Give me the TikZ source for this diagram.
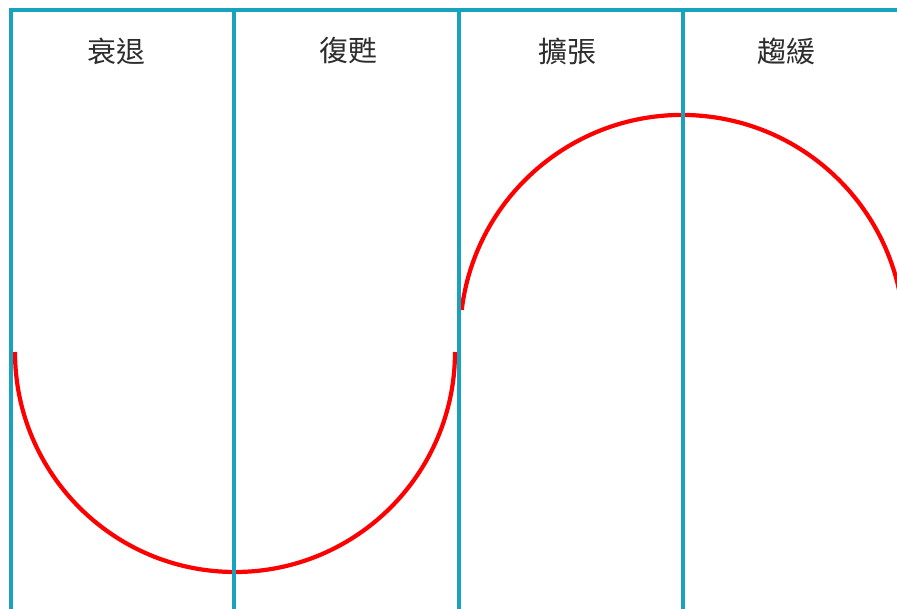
\documentclass[tikz,border=0pt]{standalone}
\usepackage{fontspec}
\newfontfamily\cjk{Noto Sans CJK TC}
\usepackage{tikz}
\definecolor{cyclecyan}{RGB}{23,163,190}
\definecolor{labelgray}{RGB}{45,45,45}
\tikzset{phase/.style = {font = \cjk\fontsize{29}{34}\selectfont, text = labelgray, inner sep = 0}}
\tikzset{divider/.style = {cyclecyan, line width = 3.2pt}}
\tikzset{wave/.style = {red, line width = 4.2pt}}

\begin{document}
\begin{tikzpicture}[x = 1pt, y = 1pt]
    \clip (0, 0) rectangle (897, 608);

    \draw [wave] (15, 256) arc(180:360:220);
    \draw [wave] (461.7, 298.1) arc(173:0:222);

    \draw [divider] (11, -5) |- (900, 598);
    \foreach \x in {234, 459, 683}
      \draw [divider] (\x, -5) -- (\x, 598);

    \node [phase] (recession) at (116, 557) {衰退};
    \node [phase] (recovery) at (348, 557) {復甦};
    \node [phase] (expansion) at (567, 557) {擴張};
    \node [phase] (slowdown) at (786, 557) {趨緩};
  \end{tikzpicture}
\end{document}
